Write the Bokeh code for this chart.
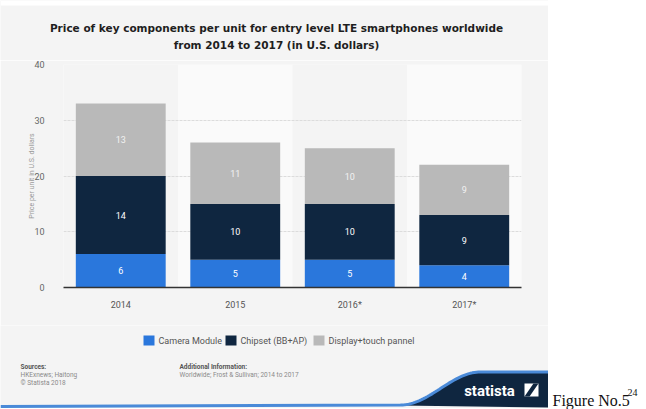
import numpy as np
from bokeh.plotting import figure
from bokeh.layouts import row, column
from bokeh.models import Range1d, FactorRange, FixedTicker, ColumnDataSource
from bokeh.core.properties import value
from bokeh.embed import file_html
from bokeh.resources import INLINE

# Data (U.S. dollars per unit)
years = ["2014", "2015", "2016*", "2017*"]
camera = [6, 5, 5, 4]
chipset = [14, 10, 10, 9]
display = [13, 11, 10, 9]
series_names = ["Camera Module", "Chipset (BB+AP)", "Display+touch pannel"]
y_ticks = [0, 10, 20, 30, 40]

CARD = "#f4f4f4"
BAND = "#fafafa"
COLORS = ["#2a77dc", "#0f2640", "#b9b9b9"]
FONT = "Roboto"


def blank(w, h, xr, yr, bg):
    p = figure(width=w, height=h, x_range=xr, y_range=yr, title=None,
               toolbar_location=None, output_backend="svg", min_border=0,
               x_axis_location=None, y_axis_location=None, frame_align=False)
    p.grid.visible = False
    p.outline_line_color = None
    p.background_fill_color = bg
    p.border_fill_color = bg
    return p


# ---- header with the title ----
header = blank(548, 60, Range1d(0, 548), Range1d(60, 0), CARD)
header.quad(left=[0], right=[548], top=[0], bottom=[5], fill_color="white", line_color=None)
header.text(x=[276, 276], y=[27, 44],
            text=["Price of key components per unit for entry level LTE smartphones worldwide",
                  "from 2014 to 2017 (in U.S. dollars)"],
            text_font=value("DejaVu Sans"), text_font_style="bold", text_font_size="10.5px",
            text_color="#1e1e1e", text_align="center", text_baseline="middle")

# ---- main stacked bar chart ----
main = figure(width=548, height=265, x_range=FactorRange(*years, range_padding=0),
              y_range=Range1d(0, 40), title=None, toolbar_location=None,
              output_backend="svg", min_border_left=63, min_border_right=27,
              min_border_top=4, min_border_bottom=38, frame_align=False)
main.background_fill_color = CARD
main.border_fill_color = CARD
main.outline_line_color = None

# lighter alternating column bands
band_years = years[1::2]
main.vbar(x=band_years, top=[y_ticks[-1]] * len(band_years), bottom=0, width=1.0,
          fill_color=BAND, line_color=None, level="image")

src = ColumnDataSource(dict(years=years, camera=camera, chipset=chipset, display=display))
main.vbar_stack(["camera", "chipset", "display"], x="years", width=0.785, source=src,
                color=COLORS, line_color=None)

# segment value labels
c0 = np.array(camera, dtype=float)
c1 = np.array(chipset, dtype=float)
c2 = np.array(display, dtype=float)
for mids, vals, col in [(c0 / 2, camera, "white"),
                        (c0 + c1 / 2, chipset, "white"),
                        (c0 + c1 + c2 / 2, display, "#f2f2f2")]:
    main.text(x=years, y=list(mids), text=[str(v) for v in vals],
              text_font=value(FONT), text_font_size="9px", text_color=col,
              text_align="center", text_baseline="middle")

main.yaxis.ticker = FixedTicker(ticks=y_ticks)
main.ygrid.ticker = FixedTicker(ticks=y_ticks)
main.ygrid.grid_line_color = "#dcdcdc"
main.ygrid.grid_line_dash = "3 1"
main.xgrid.visible = False
main.yaxis.axis_line_color = None
main.yaxis.major_tick_line_color = None
main.yaxis.minor_tick_line_color = None
main.yaxis.major_label_standoff = 13
main.yaxis.major_label_text_font = FONT
main.yaxis.major_label_text_font_size = "9px"
main.yaxis.major_label_text_color = "#666666"
main.yaxis.axis_label = "Price per unit in U.S. dollars"
main.yaxis.axis_label_text_font = FONT
main.yaxis.axis_label_text_font_style = "normal"
main.yaxis.axis_label_text_font_size = "7px"
main.yaxis.axis_label_text_color = "#999999"
main.yaxis.axis_label_standoff = -5
main.xaxis.axis_line_color = "#333333"
main.xaxis.axis_line_width = 1.5
main.xaxis.major_tick_line_color = None
main.xaxis.minor_tick_line_color = None
main.xaxis.major_label_standoff = 6
main.xaxis.major_label_text_font = FONT
main.xaxis.major_label_text_font_size = "9px"
main.xaxis.major_label_text_color = "#555555"

# ---- footer: legend, sources, branding ----
footer = blank(548, 84, Range1d(0, 548), Range1d(84, 0), CARD)
leg_x = [143, 225, 313]
footer.quad(left=leg_x, right=[x + 11 for x in leg_x], top=[10] * 3, bottom=[20] * 3,
            fill_color=COLORS, line_color=None)
footer.text(x=[x + 15 for x in leg_x], y=[15] * 3, text=series_names,
            text_font=value(FONT), text_font_size="9px", text_color="#555555",
            text_baseline="middle")

footer.text(x=[20, 179], y=[41, 41], text=["Sources:", "Additional Information:"],
            text_font=value(FONT), text_font_style="bold", text_font_size="6.5px",
            text_color="#555555", text_baseline="middle")
footer.text(x=[20, 20, 179], y=[49, 57, 49],
            text=["HKExnews; Haitong", "\u00a9 Statista 2018",
                  "Worldwide; Frost & Sullivan; 2014 to 2017"],
            text_font=value(FONT), text_font_size="6.5px", text_color="#8a8a8a",
            text_baseline="middle")

# wave-shaped brand band
t = np.linspace(0, 1, 40)
wx = 400 + 80 * t
wy = 80 - 33 * (0.5 - 0.5 * np.cos(np.pi * t))
navy_x = list(wx) + [548, 548]
navy_y = list(wy) + [47, 82]
footer.patch(x=navy_x, y=navy_y, fill_color="#0f2640", line_color=None)
footer.quad(left=[0], right=[548], top=[82.5], bottom=[84], fill_color="white", line_color=None)
footer.line(x=[0] + list(wx) + [548], y=[81] + list(wy - 0.5) + [46.5],
            line_color="#4a8ad8", line_width=3)
footer.text(x=[489], y=[65], text=["statista"], text_font=value(FONT), text_font_style="bold",
            text_font_size="15px", text_color="white", text_align="center", text_baseline="middle")
footer.quad(left=[524], right=[538], top=[58], bottom=[71], fill_color="white", line_color=None)
footer.patch(x=[524, 533, 538, 529], y=[71, 58, 58, 71], fill_color="#0f2640", line_color=None)

# ---- caption on the right ----
side = blank(98, 409, Range1d(0, 98), Range1d(409, 0), "white")
side.text(x=[4], y=[400], text=["Figure No.5"], text_font=value("Liberation Serif"),
          text_font_size="16px", text_color="#111111", text_baseline="alphabetic")
side.text(x=[79], y=[392], text=["24"], text_font=value("Liberation Serif"),
          text_font_size="10px", text_color="#111111", text_baseline="alphabetic")

layout = row(column(header, main, footer, spacing=0), side, spacing=0)
open("out.html", "w").write(file_html(layout, INLINE))
